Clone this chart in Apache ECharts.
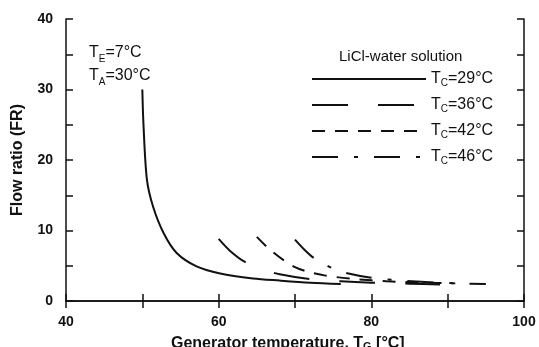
<!DOCTYPE html>
<html><head><meta charset="utf-8">
<script src="https://cdn.jsdelivr.net/npm/echarts@6/dist/echarts.min.js"></script>
<style>html,body{margin:0;padding:0;background:#fff}#c{width:539px;height:347px}</style>
</head><body><div id="c"></div>
<script>
// Data
const seriesNames = ['T_C=29°C', 'T_C=36°C', 'T_C=42°C', 'T_C=46°C'];
const tg29 = [50, 50.15, 50.6, 51.4, 52.8, 54.5, 57.1, 60.2, 64.5, 68, 72, 76];
const fr29 = [30, 25, 17.2, 13.4, 9.6, 6.8, 4.9, 3.9, 3.2, 2.9, 2.6, 2.4];
const tg36 = [60, 61.5, 63.5, 66, 68, 72, 76, 80, 85, 89];
const fr36 = [8.8, 7.1, 5.5, 4.4, 3.8, 3.1, 2.8, 2.6, 2.45, 2.35];
const tg42 = [65, 66.5, 68.5, 70, 71.5, 74, 78, 82, 87, 91];
const fr42 = [9.1, 7.5, 5.8, 4.8, 4.2, 3.6, 3.1, 2.8, 2.6, 2.5];
const tg46 = [70, 71.3, 72.6, 75, 77, 80, 84, 89, 95];
const fr46 = [8.7, 7.2, 6.0, 4.6, 3.9, 3.3, 2.9, 2.6, 2.4];
const xTicks = [40, 60, 80, 100];
const yTicks = [0, 10, 20, 30, 40];

const zip = (a, b) => a.map((v, i) => [v, b[i]]);
const FONT = '"Liberation Sans", Arial, sans-serif';
const chart = echarts.init(document.getElementById('c'), null, {renderer: 'canvas'});
const axisLine = {show: true, lineStyle: {color: '#111', width: 1.5}};
const tick = {show: true, inside: true, length: 7, lineStyle: {color: '#111', width: 1.5}};

const legendFmt = n => {
  const m = n.match(/^T_C(.*)$/);
  return '{t|T}{s|C}{t|' + m[1] + '}';
};
const txt = (size, weight) => ({fontFamily: FONT, fontSize: size, fontWeight: weight || 'normal', color: '#111'});

chart.setOption({
  backgroundColor: '#fff',
  animation: false,
  title: [
    {text: '{t|T}{s|E}{t|=7°C}\n{t|T}{s|A}{t|=30°C}', left: 84, top: 36,
     textStyle: {rich: {t: Object.assign(txt(16), {lineHeight: 23}),
                        s: Object.assign(txt(10), {verticalAlign: 'bottom', lineHeight: 16})}}},
    {text: '{t|Generator temperature, T}{s|G}{t| [°C]}', left: 166, top: 331,
     textStyle: {rich: {t: txt(16, 'bold'), s: Object.assign(txt(11, 'bold'), {verticalAlign: 'bottom'})}}},
    {text: 'LiCl-water solution', left: 334, top: 44, textStyle: txt(15)}
  ],
  grid: {left: 66, right: 15, top: 19, bottom: 46, containLabel: false},
  legend: {
    orient: 'vertical', left: 306, top: 66, itemWidth: 114, itemHeight: 18, itemGap: 9,
    data: seriesNames,
    formatter: legendFmt,
    itemStyle: {opacity: 0, color: 'transparent', borderWidth: 0},
    textStyle: Object.assign(txt(16), {
      rich: {t: Object.assign(txt(16), {lineHeight: 18}),
             s: Object.assign(txt(10), {verticalAlign: 'bottom', lineHeight: 14})}})
  },
  xAxis: [
    {type: 'value', min: 40, max: 100, interval: 10, position: 'bottom',
     axisLine, axisTick: tick, splitLine: {show: false},
     axisLabel: Object.assign(txt(14, 'bold'), {margin: 14,
                 formatter: v => xTicks.includes(v) ? String(v) : ''})},
    {type: 'value', min: 40, max: 100, interval: 10, position: 'top',
     axisLine, axisTick: tick, axisLabel: {show: false}, splitLine: {show: false}}
  ],
  yAxis: [
    {type: 'value', min: 0, max: 40, interval: 5, position: 'left',
     name: 'Flow ratio (FR)', nameLocation: 'middle', nameGap: 40,
     nameTextStyle: txt(16, 'bold'),
     axisLine, axisTick: tick, splitLine: {show: false},
     axisLabel: Object.assign(txt(14, 'bold'), {margin: 13,
                 formatter: v => yTicks.includes(v) ? String(v) : ''})},
    {type: 'value', min: 0, max: 40, interval: 5, position: 'right',
     axisLine, axisTick: tick, axisLabel: {show: false}, splitLine: {show: false}}
  ],
  series: [
    {name: seriesNames[0], type: 'line', data: zip(tg29, fr29), smooth: 0.3, symbol: 'none',
     lineStyle: {color: '#111', width: 2, type: 'solid'}, itemStyle: {color: '#111'}},
    {name: seriesNames[1], type: 'line', data: zip(tg36, fr36), smooth: 0.3, symbol: 'none',
     lineStyle: {color: '#111', width: 2, type: [36, 30]}, itemStyle: {color: '#111'}},
    {name: seriesNames[2], type: 'line', data: zip(tg42, fr42), smooth: 0.3, symbol: 'none',
     lineStyle: {color: '#111', width: 2, type: [13, 10]}, itemStyle: {color: '#111'}},
    {name: seriesNames[3], type: 'line', data: zip(tg46, fr46), smooth: 0.3, symbol: 'none',
     lineStyle: {color: '#111', width: 2, type: [26, 16, 4, 16]}, itemStyle: {color: '#111'}}
  ]
});
</script></body></html>
